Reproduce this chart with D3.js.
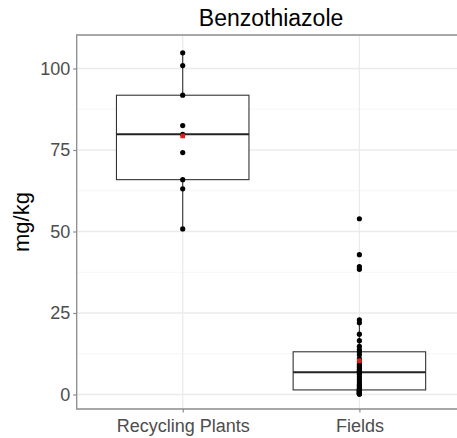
<!DOCTYPE html>
<html>
<head>
<meta charset="utf-8">
<script src="https://cdn.jsdelivr.net/npm/d3@7"></script>
<style>
  html, body { margin: 0; padding: 0; background: #fff; overflow: hidden; }
  svg { display: block; font-family: "Liberation Sans", Arial, sans-serif; }
</style>
</head>
<body>
<svg id="chart" width="457" height="438"></svg>
<script>
// ---- data ----
const chartTitle = "Benzothiazole";
const yLabel = "mg/kg";
const categories = ["Recycling Plants", "Fields"];
const recyclingValues = [104.8, 100.9, 91.8, 82.5, 79.8, 74.2, 65.9, 63.1, 50.8];
const fieldsValues = [
  0.1, 0.2, 0.3, 0.4, 0.5, 0.7, 0.8, 1.0, 1.1, 1.3,
  1.4,
  1.6, 1.9, 2.3, 2.8, 3.3, 3.9, 4.6, 5.4, 6.2,
  6.8,
  7.0, 7.3, 7.7, 8.1, 8.6, 9.2, 10.0, 11.0, 12.2,
  13.1,
  13.8, 14.8, 16.5, 18.5, 22.0, 22.9,
  38.4, 39.2, 42.9, 53.9
];
const seriesValues = [recyclingValues, fieldsValues];
const yTicks = [0, 25, 50, 75, 100];
const yMinorTicks = [12.5, 37.5, 62.5, 87.5];

// ---- layout ----
const panel = { left: 76.7, right: 465.4, top: 35, bottom: 409 };
const svg = d3.select("#chart");

const y = d3.scaleLinear().domain([-4.45, 110.27]).range([panel.bottom, panel.top]);
const x = d3.scalePoint().domain(categories).range([panel.left, panel.right]).padding(0.6);
const boxW = x.step() * 0.75;

svg.append("rect")
  .attr("x", panel.left).attr("y", panel.top)
  .attr("width", panel.right - panel.left).attr("height", panel.bottom - panel.top)
  .attr("fill", "#fff");

// grid
const grid = svg.append("g");
grid.selectAll(".minor").data(yMinorTicks).join("line")
  .attr("x1", panel.left).attr("x2", panel.right)
  .attr("y1", d => y(d)).attr("y2", d => y(d))
  .attr("stroke", "#f2f2f2").attr("stroke-width", 0.8);
grid.selectAll(".major").data(yTicks).join("line")
  .attr("x1", panel.left).attr("x2", panel.right)
  .attr("y1", d => y(d)).attr("y2", d => y(d))
  .attr("stroke", "#ebebeb").attr("stroke-width", 1.3);
grid.selectAll(".vmajor").data(categories).join("line")
  .attr("x1", d => x(d)).attr("x2", d => x(d))
  .attr("y1", panel.top).attr("y2", panel.bottom)
  .attr("stroke", "#ebebeb").attr("stroke-width", 1.3);

function stats(vals) {
  const s = vals.slice().sort(d3.ascending);
  const q1 = d3.quantile(s, 0.25), med = d3.quantile(s, 0.5), q3 = d3.quantile(s, 0.75);
  const iqr = q3 - q1;
  const lo = d3.min(s.filter(v => v >= q1 - 1.5 * iqr));
  const hi = d3.max(s.filter(v => v <= q3 + 1.5 * iqr));
  return { q1, med, q3, lo, hi, mean: d3.mean(s) };
}

const boxes = svg.append("g");
categories.forEach((c, i) => {
  const st = stats(seriesValues[i]);
  const cx = x(c);
  const g = boxes.append("g");
  g.append("line").attr("x1", cx).attr("x2", cx).attr("y1", y(st.q3)).attr("y2", y(st.hi))
    .attr("stroke", "#333").attr("stroke-width", 1.1);
  g.append("line").attr("x1", cx).attr("x2", cx).attr("y1", y(st.q1)).attr("y2", y(st.lo))
    .attr("stroke", "#333").attr("stroke-width", 1.1);
  g.append("rect").attr("x", cx - boxW / 2).attr("y", y(st.q3))
    .attr("width", boxW).attr("height", y(st.q1) - y(st.q3))
    .attr("fill", "#fff").attr("stroke", "#333").attr("stroke-width", 1.1);
  g.append("line").attr("x1", cx - boxW / 2).attr("x2", cx + boxW / 2)
    .attr("y1", y(st.med)).attr("y2", y(st.med))
    .attr("stroke", "#222").attr("stroke-width", 2);
  g.selectAll("circle").data(seriesValues[i]).join("circle")
    .attr("cx", cx).attr("cy", d => y(d)).attr("r", 2.6).attr("fill", "#000");
  g.append("path")
    .attr("d", d3.symbol(d3.symbolSquare, 22)())
    .attr("transform", `translate(${cx},${y(st.mean)})`)
    .attr("fill", "#e31a1c");
});

// border (right side lies outside the picture)
svg.append("path")
  .attr("d", `M${panel.right},${panel.top}H${panel.left}V${panel.bottom}H${panel.right}`)
  .attr("fill", "none").attr("stroke", "#8c8c8c").attr("stroke-width", 1.3);

// axes
const yAxis = svg.append("g").attr("transform", `translate(${panel.left},0)`)
  .call(d3.axisLeft(y).tickValues(yTicks).tickSize(3.5).tickPadding(3));
const xAxis = svg.append("g").attr("transform", `translate(0,${panel.bottom})`)
  .call(d3.axisBottom(x).tickSize(3.5).tickPadding(4));
[yAxis, xAxis].forEach(a => {
  a.select(".domain").remove();
  a.selectAll(".tick line").attr("stroke", "#8c8c8c").attr("stroke-width", 1.2);
  a.selectAll(".tick text").attr("fill", "#4d4d4d").style("font-size", "18px")
    .style("font-family", "'Liberation Sans', Arial, sans-serif");
});
xAxis.selectAll(".tick text").attr("dy", "0.85em");

// title
svg.append("text").attr("x", (panel.left + panel.right) / 2).attr("y", 26)
  .attr("text-anchor", "middle").attr("fill", "#000").style("font-size", "23px")
  .text(chartTitle);

// y label
svg.append("text")
  .attr("transform", `translate(29,${(panel.top + panel.bottom) / 2}) rotate(-90)`)
  .attr("text-anchor", "middle").attr("fill", "#000").style("font-size", "22px")
  .text(yLabel);
</script>
</body>
</html>
